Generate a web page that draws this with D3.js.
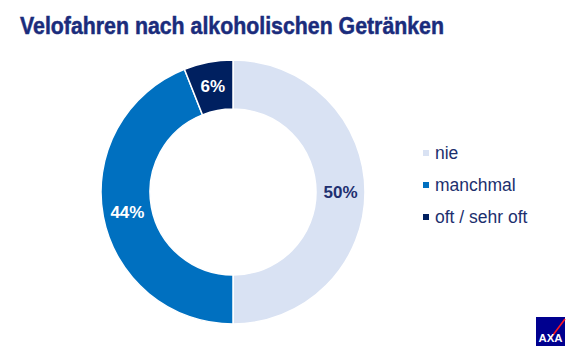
<!DOCTYPE html>
<html>
<head>
<meta charset="utf-8">
<script src="https://cdn.jsdelivr.net/npm/d3@7"></script>
<style>
  body { margin: 0; background: #fff; }
  svg { display: block; }
</style>
</head>
<body>
<div id="chart"></div>
<script>
// data
var categories = ["nie", "manchmal", "oft / sehr oft"];
var values = [50, 44, 6];
var colors = ["#d9e2f3", "#0070c0", "#002060"];
var labelColors = ["#1f3070", "#ffffff", "#ffffff"];

var svgWidth = 582, svgHeight = 364;
var cx = 233, cy = 192;
var outerR = 132, innerR = 83;

var svg = d3.select("#chart").append("svg")
  .attr("width", svgWidth)
  .attr("height", svgHeight);

// title (condensed look via textLength)
svg.append("text")
  .attr("x", 20)
  .attr("y", 34)
  .attr("fill", "#1a2c7c")
  .attr("stroke", "#1a2c7c")
  .attr("stroke-width", 0.5)
  .attr("textLength", 424)
  .attr("lengthAdjust", "spacingAndGlyphs")
  .style("font-family", "'Liberation Sans Narrow', 'Arial Narrow', 'Liberation Sans', sans-serif")
  .style("font-weight", "bold")
  .style("font-size", "24.5px")
  .text("Velofahren nach alkoholischen Getränken");

var pie = d3.pie().sort(null).value(d => d.value);
var arc = d3.arc().innerRadius(innerR).outerRadius(outerR);

var data = categories.map((c, i) => ({ name: c, value: values[i], color: colors[i], lc: labelColors[i] }));

var g = svg.append("g").attr("transform", `translate(${cx}, ${cy})`);

g.selectAll("path")
  .data(pie(data))
  .enter()
  .append("path")
  .attr("d", arc)
  .attr("fill", d => d.data.color)
  .attr("stroke", "#fff")
  .attr("stroke-width", 1.5);

g.selectAll(".lbl")
  .data(pie(data))
  .enter()
  .append("text")
  .attr("class", "lbl")
  .attr("transform", d => `translate(${arc.centroid(d)})`)
  .attr("text-anchor", "middle")
  .attr("dy", "0.35em")
  .attr("fill", d => d.data.lc)
  .style("font-family", "'Liberation Sans', Arial, sans-serif")
  .style("font-weight", "bold")
  .style("font-size", "17px")
  .text(d => d.data.value + "%");

// legend
var legend = svg.append("g").attr("transform", "translate(423, 153)");
var items = legend.selectAll("g")
  .data(data)
  .enter()
  .append("g")
  .attr("transform", (d, i) => `translate(0, ${i * 32})`);

items.append("rect")
  .attr("x", 0)
  .attr("y", -3)
  .attr("width", 6)
  .attr("height", 6)
  .attr("fill", d => d.color);

items.append("text")
  .attr("x", 12)
  .attr("y", 0)
  .attr("dy", "0.35em")
  .attr("fill", "#1c2f6e")
  .style("font-family", "'Liberation Sans', Arial, sans-serif")
  .style("font-size", "17.5px")
  .text(d => d.name);

// AXA logo
var logo = svg.append("g").attr("transform", "translate(536, 317)");
logo.append("rect").attr("width", 29).attr("height", 29).attr("fill", "#00008f");
logo.append("line")
  .attr("x1", 14).attr("y1", 22).attr("x2", 29).attr("y2", 2)
  .attr("stroke", "#ff1721").attr("stroke-width", 1.5);
logo.append("text")
  .attr("x", 14.5)
  .attr("y", 25)
  .attr("text-anchor", "middle")
  .attr("fill", "#fff")
  .attr("textLength", 24)
  .attr("lengthAdjust", "spacingAndGlyphs")
  .style("font-family", "'Liberation Sans', Arial, sans-serif")
  .style("font-weight", "bold")
  .style("font-size", "11px")
  .text("AXA");
</script>
</body>
</html>
